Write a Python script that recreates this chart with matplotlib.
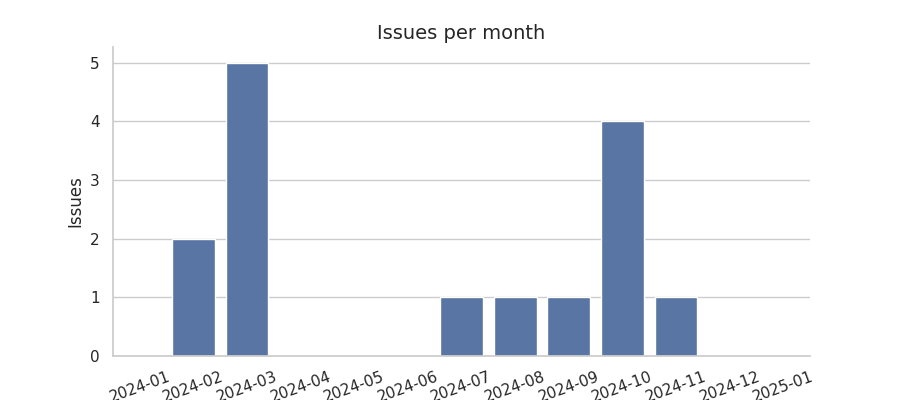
import matplotlib
matplotlib.use("Agg")
import matplotlib.pyplot as plt
import seaborn as sns
import numpy as np

# Données du graphique
months = ['2024-01', '2024-02', '2024-03', '2024-04', '2024-05', '2024-06', '2024-07',
          '2024-08', '2024-09', '2024-10', '2024-11', '2024-12', '2025-01']
issues = [0, 2, 5, 0, 0, 0, 1, 1, 1, 4, 1, 0, 0]

sns.set_theme(style="whitegrid")

fig = plt.figure(figsize=(9, 4), dpi=100)
ax = fig.add_axes([0.1255, 0.11, 0.7745, 0.7725])

x = np.arange(len(months))
ax.bar(x, issues, width=0.8, color='#5975a4', edgecolor='white', linewidth=1)

ax.set_xlim(-0.5, len(months) - 0.5)
ax.set_ylim(0, 5.27)
ax.set_xticks(x)
ax.set_xticklabels(months, rotation=20, ha='center')
ax.grid(axis='x', visible=False)
ax.set_ylabel('Issues')
ax.set_title('Issues per month', fontsize=14)
sns.despine(ax=ax)

fig.savefig('out.png', dpi=100)
